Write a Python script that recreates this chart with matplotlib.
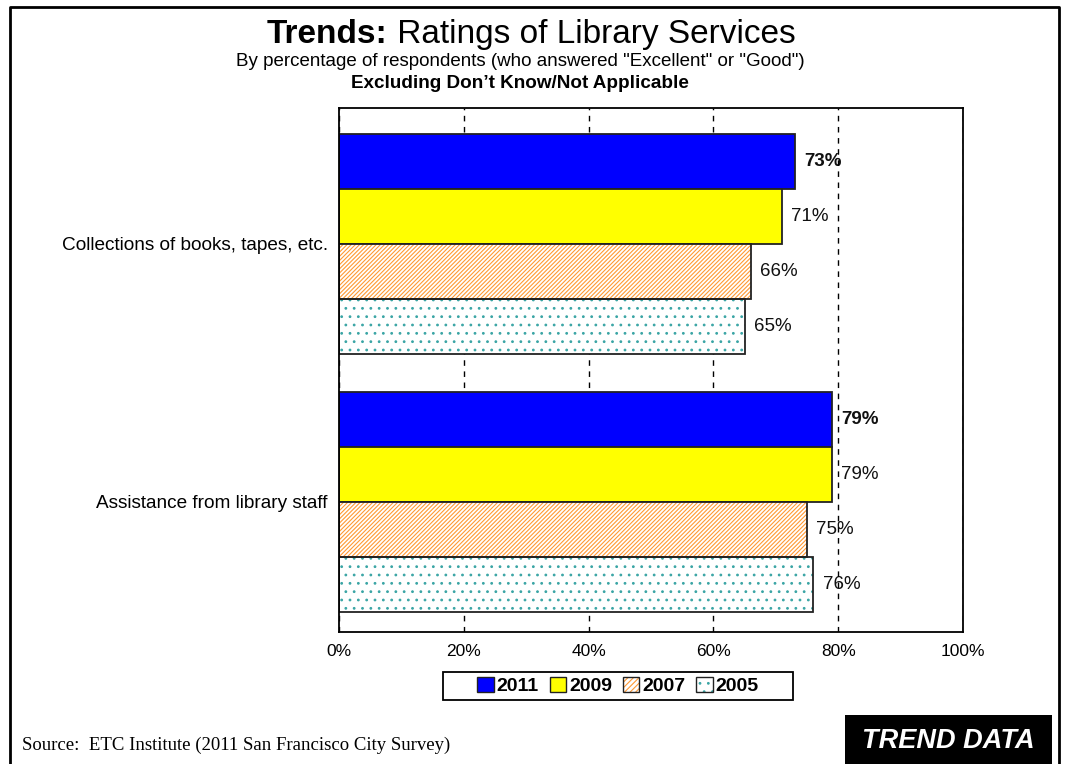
import matplotlib
matplotlib.use("Agg")
import matplotlib.pyplot as plt
from matplotlib.patches import Patch, Rectangle
from matplotlib.lines import Line2D

# Data
categories = ["Collections of books, tapes, etc.", "Assistance from library staff"]
years = ["2011", "2009", "2007", "2005"]
values_2011 = [73, 79]
values_2009 = [71, 79]
values_2007 = [66, 75]
values_2005 = [65, 76]
xticks = [0, 20, 40, 60, 80, 100]
xtick_labels = ["0%", "20%", "40%", "60%", "80%", "100%"]

plt.rcParams["font.family"] = ["Liberation Sans", "DejaVu Sans"]
plt.rcParams["hatch.linewidth"] = 0.8

W, H = 1065, 764
fig = plt.figure(figsize=(W / 100, H / 100), dpi=100)
fig.patch.set_facecolor("white")

def fx(px):
    return px / W

def fy(py):
    return 1 - py / H

ax = fig.add_axes([fx(339), fy(632), fx(963) - fx(339), fy(108) - fy(632)])

bar_h = 0.2132
offsets = [-1.5 * bar_h, -0.5 * bar_h, 0.5 * bar_h, 1.5 * bar_h]
edge = "#222222"
orange = "#ff9933"
teal = "#3aa5a5"
stripe = "////////"
dots = ".."

series = [values_2011, values_2009, values_2007, values_2005]
for i, vals in enumerate(series):
    ys = [c + offsets[i] for c in range(len(categories))]
    if i == 0:
        ax.barh(ys, vals, height=bar_h, color="#0000ff", edgecolor=edge, linewidth=1.3, zorder=2)
    elif i == 1:
        ax.barh(ys, vals, height=bar_h, color="#ffff00", edgecolor=edge, linewidth=1.3, zorder=2)
    elif i == 2:
        ax.barh(ys, vals, height=bar_h, color="white", edgecolor=orange, hatch=stripe, linewidth=0, zorder=2)
        ax.barh(ys, vals, height=bar_h, fill=False, edgecolor=edge, linewidth=1.3, zorder=2.1)
    else:
        ax.barh(ys, vals, height=bar_h, color="white", edgecolor=teal, hatch=dots, linewidth=0, zorder=2)
        ax.barh(ys, vals, height=bar_h, fill=False, edgecolor=edge, linewidth=1.3, zorder=2.1)
    for y, v in zip(ys, vals):
        ax.text(v + 1.5, y, f"{v}%", ha="left", va="center", fontsize=13.5,
                fontweight="bold" if i == 0 else "normal", color="#111111", zorder=0.3)

ax.set_xlim(0, 100)
ax.set_ylim(1.504, -0.527)
ax.set_xticks(xticks)
ax.set_xticklabels(xtick_labels, fontsize=12.5)
ax.set_yticks(range(len(categories)))
ax.set_yticklabels(categories, fontsize=13.7)
ax.tick_params(axis="both", length=0)
ax.tick_params(axis="x", pad=9)
ax.tick_params(axis="y", pad=8)
ax.set_axisbelow(True)
ax.xaxis.grid(True, color="black", linestyle=(0, (4, 4)), linewidth=1.0)
ax.yaxis.grid(False)
for sp in ax.spines.values():
    sp.set_color("black")
    sp.set_linewidth(1.3)

# Legend (entries without frame, box drawn separately)
handles = [
    Patch(facecolor="#0000ff", edgecolor=edge, linewidth=1.0),
    Patch(facecolor="#ffff00", edgecolor=edge, linewidth=1.0),
    (Patch(facecolor="white", edgecolor=orange, hatch="//////", linewidth=0),
     Patch(fill=False, edgecolor=edge, linewidth=1.0)),
    (Patch(facecolor="white", edgecolor=teal, hatch=dots, linewidth=0),
     Patch(fill=False, edgecolor=edge, linewidth=1.0)),
]
fig.legend(handles, years, loc="center", bbox_to_anchor=(fx(618), fy(686)),
           ncol=4, frameon=False, handlelength=0.85, handleheight=0.85,
           handletextpad=0.15, columnspacing=0.55, borderpad=0.0,
           prop={"weight": "bold", "size": 14})
fig.patches.append(Rectangle((fx(443), fy(700)), fx(793) - fx(443), fy(672) - fy(700),
                             transform=fig.transFigure, facecolor="none",
                             edgecolor="black", linewidth=1.3))

# Title made of a bold lead-in and a regular remainder, centred together
renderer = fig.canvas.get_renderer()
t1 = fig.text(0, fy(43), "Trends:", fontsize=24, fontweight="bold", va="baseline", ha="left")
t2 = fig.text(0, fy(43), " Ratings of Library Services", fontsize=24, va="baseline", ha="left")
w1 = t1.get_window_extent(renderer).width
w2 = t2.get_window_extent(renderer).width
start = 531 - (w1 + w2) / 2
t1.set_x(fx(start))
t2.set_x(fx(start + w1))

fig.text(fx(520), fy(62), 'By percentage of respondents (who answered "Excellent" or "Good")',
         fontsize=13.5, ha="center", va="center")
fig.text(fx(520), fy(84), "Excluding Don\u2019t Know/Not Applicable",
         fontsize=13.6, fontweight="bold", ha="center", va="center")

# Footer
fig.text(fx(22), fy(745), "Source:  ETC Institute (2011 San Francisco City Survey)",
         family=["Liberation Serif", "DejaVu Serif"], fontsize=13.5, ha="left", va="center")
fig.patches.append(Rectangle((fx(845), 0), fx(1052) - fx(845), fy(715), transform=fig.transFigure,
                             facecolor="black", edgecolor="none"))
fig.text(fx(948), fy(741), "TREND DATA", color="white", fontsize=19.5, fontweight="bold",
         fontstyle="italic", ha="center", va="center")

# Page border (left, top and right)
fig.lines.append(Line2D([fx(10), fx(10), fx(1059), fx(1059)], [0, fy(7), fy(7), 0],
                        transform=fig.transFigure, color="black", linewidth=2.0))

fig.savefig("out.png", dpi=100)
